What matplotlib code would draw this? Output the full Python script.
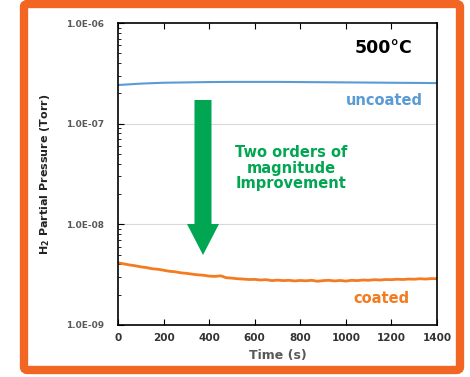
import matplotlib
matplotlib.use("Agg")
import matplotlib.pyplot as plt
from matplotlib.patches import FancyBboxPatch, FancyArrow
from matplotlib.ticker import LogLocator, NullFormatter, FixedLocator

# data
time_uncoated = [0, 100, 200, 300, 400, 500, 600, 700, 800, 900, 1000, 1100, 1200, 1300, 1400]
p_uncoated = [2.42e-7, 2.50e-7, 2.55e-7, 2.57e-7, 2.59e-7, 2.60e-7, 2.60e-7, 2.60e-7, 2.59e-7,
              2.58e-7, 2.57e-7, 2.56e-7, 2.55e-7, 2.54e-7, 2.53e-7]

time_coated = [0, 25, 50, 75, 100, 125, 150, 175, 200, 225, 250, 275, 300, 325, 350, 375, 400,
               425, 450, 475, 500, 525, 550, 575, 600, 625, 650, 675, 700, 725, 750, 775, 800,
               825, 850, 875, 900, 925, 950, 975, 1000, 1025, 1050, 1075, 1100, 1125, 1150,
               1175, 1200, 1225, 1250, 1275, 1300, 1325, 1350, 1375, 1400]
p_coated = [4.15e-9, 4.05e-9, 3.95e-9, 3.88e-9, 3.78e-9, 3.72e-9, 3.62e-9, 3.58e-9, 3.50e-9,
            3.42e-9, 3.38e-9, 3.30e-9, 3.26e-9, 3.20e-9, 3.15e-9, 3.12e-9, 3.06e-9, 3.04e-9,
            3.08e-9, 2.95e-9, 2.92e-9, 2.88e-9, 2.86e-9, 2.83e-9, 2.84e-9, 2.80e-9, 2.82e-9,
            2.76e-9, 2.79e-9, 2.76e-9, 2.78e-9, 2.74e-9, 2.77e-9, 2.75e-9, 2.78e-9, 2.72e-9,
            2.76e-9, 2.78e-9, 2.74e-9, 2.77e-9, 2.73e-9, 2.78e-9, 2.76e-9, 2.80e-9, 2.78e-9,
            2.82e-9, 2.80e-9, 2.83e-9, 2.82e-9, 2.85e-9, 2.83e-9, 2.86e-9, 2.85e-9, 2.88e-9,
            2.86e-9, 2.89e-9, 2.88e-9]

y_ticks = [1e-9, 1e-8, 1e-7, 1e-6]
y_tick_labels = ["1.0E-09", "1.0E-08", "1.0E-07", "1.0E-06"]
x_ticks = [0, 200, 400, 600, 800, 1000, 1200, 1400]

BORDER = "#F26522"
BLUE = "#5B9BD5"
ORANGE = "#F47B20"
GREEN = "#00A651"
GRAY = "#595959"

fig = plt.figure(figsize=(4.7, 3.77), dpi=100)
W, H = 470, 377

# orange frame around the chart
frame = FancyBboxPatch((24 / W, 7 / H), 436 / W, 366 / H,
                       boxstyle="round,pad=0,rounding_size=0.008",
                       transform=fig.transFigure, facecolor="none",
                       edgecolor=BORDER, linewidth=6, zorder=-1)
fig.patches.append(frame)

ax = fig.add_axes([118 / W, (H - 325) / H, (437 - 118) / W, (325 - 23) / H])
ax.set_facecolor("none")
ax.set_yscale("log")
ax.set_xlim(0, 1400)
ax.set_ylim(1e-9, 1e-6)

ax.plot(time_uncoated, p_uncoated, color=BLUE, lw=1.5)
ax.plot(time_coated, p_coated, color=ORANGE, lw=2.0)

for g in [1e-8, 1e-7]:
    ax.axhline(g, color="#D9D9D9", lw=0.8, zorder=0)

ax.yaxis.set_major_locator(FixedLocator(y_ticks))
ax.set_yticklabels(y_tick_labels)
ax.yaxis.set_minor_locator(LogLocator(base=10, subs=range(2, 10)))
ax.yaxis.set_minor_formatter(NullFormatter())
ax.set_xticks(x_ticks)

ax.tick_params(axis="both", which="both", direction="in", top=True, right=False)
ax.tick_params(axis="y", which="major", length=4, labelsize=6.5, labelcolor=GRAY, pad=10)
ax.tick_params(axis="y", which="minor", length=2.5)
ax.tick_params(axis="x", length=4, labelsize=7.5, labelcolor="#333333", pad=6)
for lbl in ax.get_xticklabels() + ax.get_yticklabels():
    lbl.set_fontweight("bold")
for sp in ax.spines.values():
    sp.set_linewidth(1.2)

ax.set_xlabel("Time (s)", fontsize=9, fontweight="bold", color=GRAY, labelpad=4)
ax.set_ylabel("H$_\\mathbf{2}$ Partial Pressure (Torr)", fontsize=8, fontweight="bold",
              color="#222222", labelpad=10)

ax.text(1290, 5.7e-7, "500\u00b0C", fontsize=12.5, fontweight="bold", ha="right", va="center")
ax.text(1340, 1.7e-7, "uncoated", fontsize=10.5, fontweight="bold", color=BLUE,
        ha="right", va="center")
ax.text(1280, 1.82e-9, "coated", fontsize=10.5, fontweight="bold", color=ORANGE,
        ha="right", va="center")
ax.text(760, 3.6e-8, "Two orders of\nmagnitude\nImprovement", fontsize=10.5, fontweight="bold",
        color=GREEN, ha="center", va="center", linespacing=1.05)

# big green arrow (drawn in axes fraction coordinates)
arr = FancyArrow(373 / 1400, (325 - 100) / 302, 0, -(255 - 100) / 302,
                 width=17 / 319, head_width=32 / 319, head_length=31 / 302,
                 length_includes_head=True, transform=ax.transAxes,
                 color=GREEN, lw=0)
ax.add_patch(arr)

fig.savefig("out.png", dpi=100)
